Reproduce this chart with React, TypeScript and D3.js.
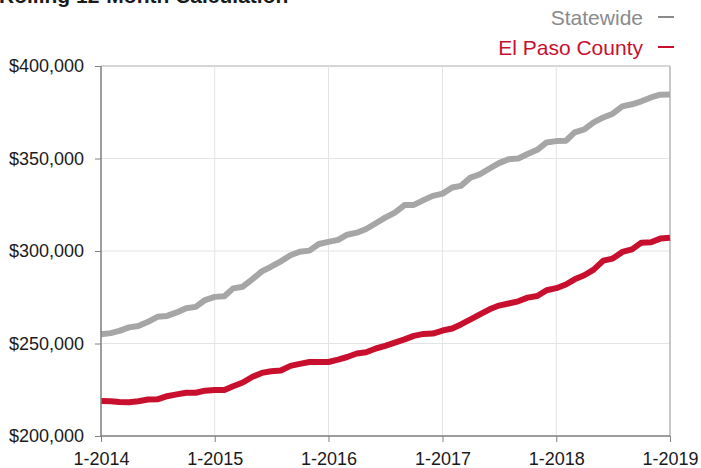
import { axisBottom, axisLeft, format, line, scaleLinear, scaleTime, select, timeMonth } from 'd3';
import React, { useEffect, useRef } from 'react';

// monthly median sale price (rolling 12-month), Jan 2014 .. Jan 2019
const statewide = [
  255.0, 255.6, 256.8, 258.7, 259.5, 261.7, 264.4, 264.9, 266.8, 269.1, 269.8, 273.5,
  275.2, 275.6, 279.8, 280.7, 284.7, 289.0, 291.5, 294.4, 297.7, 299.6, 300.2, 303.8,
  304.9, 306.0, 308.8, 309.9, 311.9, 315.0, 318.0, 320.8, 324.8, 324.9, 327.5, 329.8,
  331.0, 334.3, 335.2, 339.7, 341.5, 344.6, 347.5, 349.6, 350.0, 352.4, 354.7, 358.7,
  359.4, 359.6, 364.1, 365.7, 369.5, 372.2, 374.2, 378.2, 379.3, 380.9, 383.0, 384.5,
  384.6,
];
const elPaso = [
  218.9, 218.8, 218.4, 218.2, 218.8, 219.7, 219.8, 221.5, 222.5, 223.4, 223.4, 224.5,
  224.9, 224.9, 226.9, 228.9, 231.9, 234.1, 235.0, 235.4, 237.9, 239.0, 240.0, 240.0,
  240.0, 241.3, 242.7, 244.6, 245.3, 247.3, 248.7, 250.5, 252.2, 254.1, 255.2, 255.4,
  257.0, 258.1, 260.3, 263.0, 265.7, 268.5, 270.5, 271.6, 272.8, 274.8, 275.7, 278.8,
  279.9, 281.9, 284.7, 286.9, 289.9, 294.8, 295.9, 299.5, 300.9, 304.5, 304.7, 306.7,
  307.2,
];
const yTicks = [200000, 250000, 300000, 350000, 400000];
const xTickYears = [2014, 2015, 2016, 2017, 2018, 2019];

const series = [
  { name: 'Statewide', values: statewide, color: '#a6a6a6', text: '#8a8a8a' },
  { name: 'El Paso County', values: elPaso, color: '#c8102e', text: '#c8102e' },
];

const W = 701;
const H = 468;
const FONT = '"Liberation Sans", Arial, Helvetica, sans-serif';

const App = () => {
  const svgRef = useRef<SVGSVGElement>(null);

  useEffect(() => {
    const svg = select(svgRef.current);
    svg.selectAll('*').remove();

    const months = timeMonth.range(new Date(2014, 0, 1), new Date(2019, 0, 2));
    const x = scaleTime().domain([months[0], months[months.length - 1]]).range([101, 670]);
    const y = scaleLinear().domain([200000, 400000]).range([436, 66]);
    const tickDates = xTickYears.map((yr) => new Date(yr, 0, 1));

    // grid
    const grid = svg.append('g');
    grid
      .selectAll('.hg')
      .data(yTicks)
      .join('line')
      .attr('x1', 101)
      .attr('x2', 670)
      .attr('y1', (d) => y(d))
      .attr('y2', (d) => y(d))
      .attr('stroke', (d) => (d === 400000 ? '#c8c8c8' : '#e4e4e4'))
      .attr('stroke-width', (d) => (d === 400000 ? 1.5 : 1));
    grid
      .selectAll('.vg')
      .data(tickDates)
      .join('line')
      .attr('x1', (d) => x(d))
      .attr('x2', (d) => x(d))
      .attr('y1', 66)
      .attr('y2', 436)
      .attr('stroke', (d, i) => (i === tickDates.length - 1 ? '#c8c8c8' : '#e4e4e4'))
      .attr('stroke-width', (d, i) => (i === tickDates.length - 1 ? 2 : 1));

    // lines
    const lineGen = line<number>()
      .x((_, i) => x(months[i]))
      .y((d) => y(d * 1000));
    series.forEach((s) => {
      svg
        .append('path')
        .datum(s.values)
        .attr('d', lineGen)
        .attr('fill', 'none')
        .attr('stroke', s.color)
        .attr('stroke-width', 6)
        .attr('stroke-linejoin', 'round');
    });

    // axes
    const yAxis = svg
      .append('g')
      .attr('transform', 'translate(101,0)')
      .call(
        axisLeft(y)
          .tickValues(yTicks)
          .tickSize(6)
          .tickPadding(11)
          .tickFormat((d) => '$' + format(',')(d as number))
      );
    const xAxis = svg
      .append('g')
      .attr('transform', 'translate(0,436)')
      .call(
        axisBottom(x)
          .tickValues(tickDates)
          .tickSize(6)
          .tickPadding(10)
          .tickFormat((d) => '1-' + (d as Date).getFullYear())
      );
    [yAxis, xAxis].forEach((ax) => {
      ax.select('.domain').attr('stroke', '#808080').attr('stroke-width', 1.5);
      ax.selectAll('.tick line').attr('stroke', '#808080');
      ax.selectAll('.tick text')
        .attr('fill', '#1a1a1a')
        .style('font-family', FONT)
        .style('font-size', '18px');
    });
    yAxis.select('.domain').attr('d', 'M0,66V436');
    xAxis.select('.domain').attr('d', 'M101,0H670');

    // title (cropped at top)
    svg
      .append('text')
      .attr('x', -1)
      .attr('y', 3)
      .attr('fill', '#1a1a1a')
      .style('font-family', FONT)
      .style('font-size', '21px')
      .style('font-weight', 'bold')
      .text('Rolling 12-Month Calculation');

    // legend
    series.forEach((s, i) => {
      const by = 25 + i * 30;
      svg
        .append('text')
        .attr('x', 643)
        .attr('y', by)
        .attr('text-anchor', 'end')
        .attr('fill', s.text)
        .style('font-family', FONT)
        .style('font-size', '21px')
        .text(s.name);
      svg
        .append('line')
        .attr('x1', 658)
        .attr('x2', 674)
        .attr('y1', by - 8)
        .attr('y2', by - 8)
        .attr('stroke', s.color === '#a6a6a6' ? '#8a8a8a' : s.color)
        .attr('stroke-width', 2);
    });
  }, []);

  return (
    <div>
      <svg
        ref={svgRef}
        width={W}
        height={H}
        style={{ position: 'absolute', left: 0, top: 0, background: '#fff' }}
      ></svg>
    </div>
  );
};

export default App;
